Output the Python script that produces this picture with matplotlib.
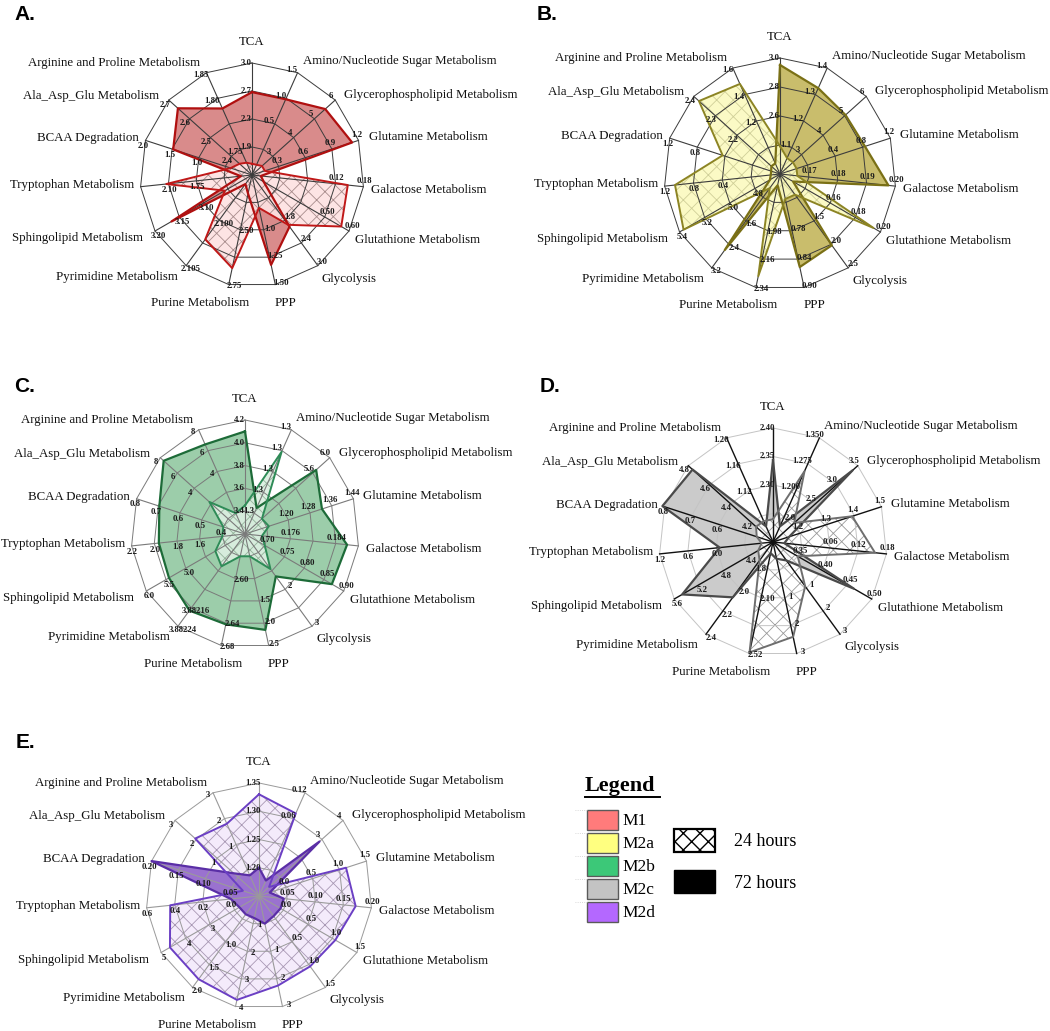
import numpy as np
import matplotlib
matplotlib.use("Agg")
import matplotlib.pyplot as plt
from matplotlib.patches import Rectangle

# ---------------- data ----------------
categories = ["TCA", "Amino/Nucleotide Sugar Metabolism", "Glycerophospholipid Metabolism",
              "Glutamine Metabolism", "Galactose Metabolism", "Glutathione Metabolism",
              "Glycolysis", "PPP", "Purine Metabolism", "Pyrimidine Metabolism",
              "Sphingolipid Metabolism", "Tryptophan Metabolism", "BCAA Degradation",
              "Ala_Asp_Glu Metabolism", "Arginine and Proline Metabolism"]

# values expressed as fraction of each axis' own outer ring (each axis has its own scale)
m1_72h = [0.74, 0.74, 0.88, 0.94, 0.08, 0.12, 0.57, 0.82, 0.17, 0.10, 0.83, 0.10, 0.74, 0.89, 0.65]
m1_24h = [0.10, 0.10, 0.12, 0.12, 0.86, 0.92, 0.55, 0.30, 0.85, 0.71, 0.28, 0.77, 0.20, 0.15, 0.12]

m2a_72h = [0.94, 0.81, 0.76, 0.77, 0.94, 0.13, 0.76, 0.82, 0.10, 0.81, 0.10, 0.08, 0.08, 0.10, 0.10]
m2a_24h = [0.24, 0.15, 0.15, 0.15, 0.15, 0.93, 0.22, 0.22, 0.90, 0.15, 0.96, 0.91, 0.52, 0.94, 0.85]

m2b_72h = [0.90, 0.25, 0.84, 0.71, 0.90, 0.88, 0.46, 0.86, 0.81, 0.83, 0.77, 0.76, 0.79, 0.96, 0.86]
m2b_24h = [0.25, 0.79, 0.20, 0.22, 0.15, 0.20, 0.38, 0.20, 0.20, 0.35, 0.30, 0.20, 0.20, 0.42, 0.20]

m2c_72h = [0.72, 0.15, 0.94, 0.15, 0.10, 0.82, 0.20, 0.15, 0.10, 0.60, 0.92, 0.47, 1.02, 0.95, 0.15]
m2c_24h = [0.20, 0.68, 0.25, 0.73, 0.90, 0.25, 0.48, 0.85, 0.99, 0.20, 0.15, 0.10, 0.15, 0.20, 0.20]

m2d_72h = [0.25, 0.15, 0.72, 0.10, 0.22, 0.22, 0.22, 0.25, 0.20, 0.20, 0.20, 0.25, 1.00, 0.30, 0.20]
m2d_24h = [0.90, 0.80, 0.12, 0.81, 0.86, 0.78, 0.77, 0.81, 0.94, 0.91, 0.91, 0.79, 0.15, 0.76, 0.70]

# per-axis ring labels (inner ring -> outer ring)
ticks_m1 = [["1.9", "2.3", "2.7", "3.0"], ["", "0.5", "1.0", "1.5"], ["3", "4", "5", "6"],
            ["0.3", "0.6", "0.9", "1.2"], ["", "", "0.12", "0.18"], ["", "", "0.50", "0.60"],
            ["", "1.8", "2.4", "3.0"], ["", "1.0", "1.25", "1.50"], ["", "2.50", "", "2.75"],
            ["", "2.100", "", "2.105"], ["", "3.10", "3.15", "3.20"], ["", "1.75", "2.10", ""],
            ["", "1.0", "1.5", "2.0"], ["2.4", "2.5", "2.6", "2.7"], ["1.75", "", "1.80", "1.85"]]
ticks_m2a = [["", "2.6", "2.8", "3.0"], ["1.1", "1.2", "1.3", "1.4"], ["3", "4", "5", "6"],
             ["", "0.4", "0.8", "1.2"], ["0.17", "0.18", "0.19", "0.20"], ["", "0.16", "0.18", "0.20"],
             ["", "1.5", "2.0", "2.5"], ["", "0.78", "0.84", "0.90"], ["", "1.98", "2.16", "2.34"],
             ["", "1.6", "2.4", "3.2"], ["4.8", "5.0", "5.2", "5.4"], ["", "0.4", "0.8", "1.2"],
             ["", "", "0.8", "1.2"], ["", "2.2", "2.3", "2.4"], ["", "1.2", "1.4", "1.6"]]
ticks_m2b = [["3.4", "3.6", "3.8", "4.0", "4.2"], ["1.3", "1.3", "1.3", "1.3", "1.3"],
             ["", "", "", "5.6", "6.0"], ["", "1.20", "1.28", "1.36", "1.44"],
             ["", "0.176", "", "0.184", ""], ["0.70", "0.75", "0.80", "0.85", "0.90"],
             ["", "", "2", "", "3"], ["", "", "1.5", "2.0", "2.5"], ["", "2.60", "", "2.64", "2.68"],
             ["", "", "", "3.88216", "3.88224"], ["", "", "5.0", "5.5", "6.0"],
             ["", "1.6", "1.8", "2.0", "2.2"], ["0.4", "0.5", "0.6", "0.7", "0.8"],
             ["", "", "4", "6", "8"], ["", "", "4", "6", "8"]]
ticks_m2c = [["", "2.30", "2.35", "2.40"], ["", "1.200", "1.275", "1.350"],
             ["2.0", "2.5", "3.0", "3.5"], ["1.2", "1.3", "1.4", "1.5"], ["", "0.06", "0.12", "0.18"],
             ["0.35", "0.40", "0.45", "0.50"], ["", "1", "2", "3"], ["", "1", "2", "3"],
             ["", "2.10", "", "2.52"], ["1.8", "2.0", "2.2", "2.4"], ["4.4", "4.8", "5.2", "5.6"],
             ["", "0.0", "0.6", "1.2"], ["", "0.6", "0.7", "0.8"], ["4.2", "4.4", "4.6", "4.8"],
             ["", "1.12", "1.16", "1.20"]]
ticks_m2d = [["1.20", "1.25", "1.30", "1.35"], ["", "", "0.06", "0.12"], ["", "", "3", "4"],
             ["0.0", "0.5", "1.0", "1.5"], ["0.05", "0.10", "0.15", "0.20"], ["0.0", "0.5", "1.0", "1.5"],
             ["", "0.5", "1.0", "1.5"], ["", "1", "2", "3"], ["1", "2", "3", "4"],
             ["", "1.0", "1.5", "2.0"], ["", "3", "4", "5"], ["0.0", "0.2", "0.4", "0.6"],
             ["0.05", "0.10", "0.15", "0.20"], ["", "1", "2", "3"], ["", "1", "2", "3"]]

legend_groups = ["M1", "M2a", "M2b", "M2c", "M2d"]
legend_colors = ["#ff7b7b", "#ffff80", "#3cc878", "#c3c3c3", "#b468ff"]
time_labels = ["24 hours", "72 hours"]

# ---------------- styling / layout ----------------
W, H = 1050, 1031
plt.rcParams['font.family'] = ['Liberation Serif', 'DejaVu Serif']
plt.rcParams['hatch.linewidth'] = 0.6
fig = plt.figure(figsize=(W / 100, H / 100), dpi=100)
fig.patch.set_facecolor('white')

# label offsets in pixels (dx right, dy down) from the outer vertex of each axis
label_off = [(0, -21, 'center'), (5, -12, 'left'), (9, -5, 'left'), (10, -3, 'left'),
             (8, 3, 'left'), (6, 9, 'left'), (4, 13, 'left'), (10, 18, 'center'),
             (21, 18, 'right'), (-8, 11, 'right'), (-12, 7, 'right'), (-6, -2, 'right'),
             (-7, -2, 'right'), (-10, -4, 'right'), (-6, -10, 'right')]

panels = [
    dict(letter="A.", lpos=(14, 14), c=(252, 175), R=112, nr=4, v72=m1_72h, v24=m1_24h, ticks=ticks_m1,
         ring='#3c3c3c', spoke='#3c3c3c', f72='#d98b8b', e72='#b01010', f24='#fde2e2',
         h24='#a88c8c', e24='#c01818', top='24'),
    dict(letter="B.", lpos=(537, 14), c=(780, 174), R=116, nr=4, v72=m2a_72h, v24=m2a_24h, ticks=ticks_m2a,
         ring='#3c3c3c', spoke='#3c3c3c', f72='#c9bd6c', e72='#7a7016', f24='#fbfac0',
         h24='#cfcf98', e24='#8c8424', top='24'),
    dict(letter="C.", lpos=(14, 386), c=(245, 534), R=114, nr=5, v72=m2b_72h, v24=m2b_24h, ticks=ticks_m2b,
         ring='#7a7a7a', spoke='#7a7a7a', f72='#9ccdaa', e72='#1d6b38', f24='#dcefe1',
         h24='#93b39a', e24='#2e8b57', top='24'),
    dict(letter="D.", lpos=(540, 386), c=(773, 542), R=114, nr=4, v72=m2c_72h, v24=m2c_24h, ticks=ticks_m2c,
         ring='#c4c4c4', spoke='#111111', f72='#cbcbcb', e72='#4a4a4a', f24='#ffffff',
         h24='#9a9a9a', e24='#6e6e6e', top='24'),
    dict(letter="E.", lpos=(16, 742), c=(259, 896), R=113, nr=4, v72=m2d_72h, v24=m2d_24h, ticks=ticks_m2d,
         ring='#9a9a9a', spoke='#9a9a9a', f72='#9a72cf', e72='#5a2ea6', f24='#f4eafb',
         h24='#a898b4', e24='#6b3fc4', top='72'),
]

n = len(categories)
theta = np.deg2rad(np.arange(n) * 360.0 / n)
theta_c = np.append(theta, theta[0])


def close(v):
    v = list(v)
    return v + v[:1]


for p in panels:
    cx, cy = p['c']
    R = p['R']
    ax = fig.add_axes([(cx - R) / W, 1 - (cy + R) / H, 2 * R / W, 2 * R / H], projection='polar')
    ax.set_theta_zero_location('N')
    ax.set_theta_direction(-1)
    ax.set_ylim(0, 1)
    ax.set_axis_off()

    def draw72(z):
        ax.fill(theta_c, close(p['v72']), facecolor=p['f72'], edgecolor='none', zorder=z, clip_on=False)

    def draw24(z):
        ax.fill(theta_c, close(p['v24']), facecolor=p['f24'], edgecolor='none', alpha=0.92,
                zorder=z, clip_on=False)
        ax.fill(theta_c, close(p['v24']), facecolor='none', edgecolor=p['h24'], hatch='xx',
                linewidth=0, zorder=z + 0.1, clip_on=False)

    if p['top'] == '24':
        draw72(2)
        draw24(2.5)
    else:
        draw24(2)
        draw72(2.5)

    # grid
    for k in range(1, p['nr'] + 1):
        ax.plot(theta_c, [k / p['nr']] * (n + 1), color=p['ring'], lw=0.7, zorder=3, clip_on=False)
    for t in theta:
        ax.plot([t, t], [0, 1], color=p['spoke'], lw=0.8 if p['spoke'] != '#111111' else 1.0,
                zorder=3, clip_on=False)

    # outlines
    ax.plot(theta_c, close(p['v72']), color=p['e72'], lw=1.6, zorder=4, clip_on=False)
    ax.plot(theta_c, close(p['v24']), color=p['e24'], lw=1.4, zorder=4, clip_on=False)

    # ring labels
    for j, labs in enumerate(p['ticks']):
        ox, oy = -np.cos(theta[j]) * 6, np.sin(theta[j]) * 6
        for k, s in enumerate(labs):
            if s:
                ax.annotate(s, xy=(theta[j], (k + 1) / p['nr']), xytext=(ox, oy),
                            textcoords='offset pixels', ha='center', va='center',
                            fontsize=6.3, fontweight='bold', color='#1a1a1a', zorder=6,
                            annotation_clip=False)

    # category labels
    for j, name in enumerate(categories):
        dx, dy, ha = label_off[j]
        ax.annotate(name, xy=(theta[j], 1.0), xytext=(dx, -dy), textcoords='offset pixels',
                    ha=ha, va='center', fontsize=9.3, color='#111111', zorder=6,
                    annotation_clip=False)

# ---------------- overlay: letters and legend ----------------
lax = fig.add_axes([0, 0, 1, 1])
lax.set_xlim(0, W)
lax.set_ylim(H, 0)
lax.set_axis_off()
lax.patch.set_alpha(0)

for p in panels:
    lax.text(p['lpos'][0], p['lpos'][1], p['letter'], fontsize=15, fontweight='bold',
             family=['Liberation Sans', 'DejaVu Sans'], ha='left', va='center', color='black')

lax.text(585, 786, "Legend", fontsize=16, fontweight='bold', ha='left', va='center')
lax.plot([585, 660], [797, 797], color='black', lw=1.4)

for i, (g, col) in enumerate(zip(legend_groups, legend_colors)):
    y0 = 810 + i * 23
    lax.add_patch(Rectangle((587, y0), 31, 20, facecolor=col, edgecolor='#5a5a5a', lw=1.0))
    lax.plot([575, 587], [y0, y0], color='#cccccc', lw=0.6, ls=':')
    lax.text(622, y0 + 11, g, fontsize=12.5, ha='left', va='center')

plt.rcParams['hatch.linewidth'] = 1.0
lax.add_patch(Rectangle((674, 829), 41, 23, facecolor='white', edgecolor='black', hatch='xx', lw=1.6))
lax.add_patch(Rectangle((674, 870), 41, 23, facecolor='black', edgecolor='black', lw=1.0))
lax.text(734, 842, time_labels[0], fontsize=13, ha='left', va='center')
lax.text(734, 883, time_labels[1], fontsize=13, ha='left', va='center')

fig.savefig("out.png", dpi=100)
